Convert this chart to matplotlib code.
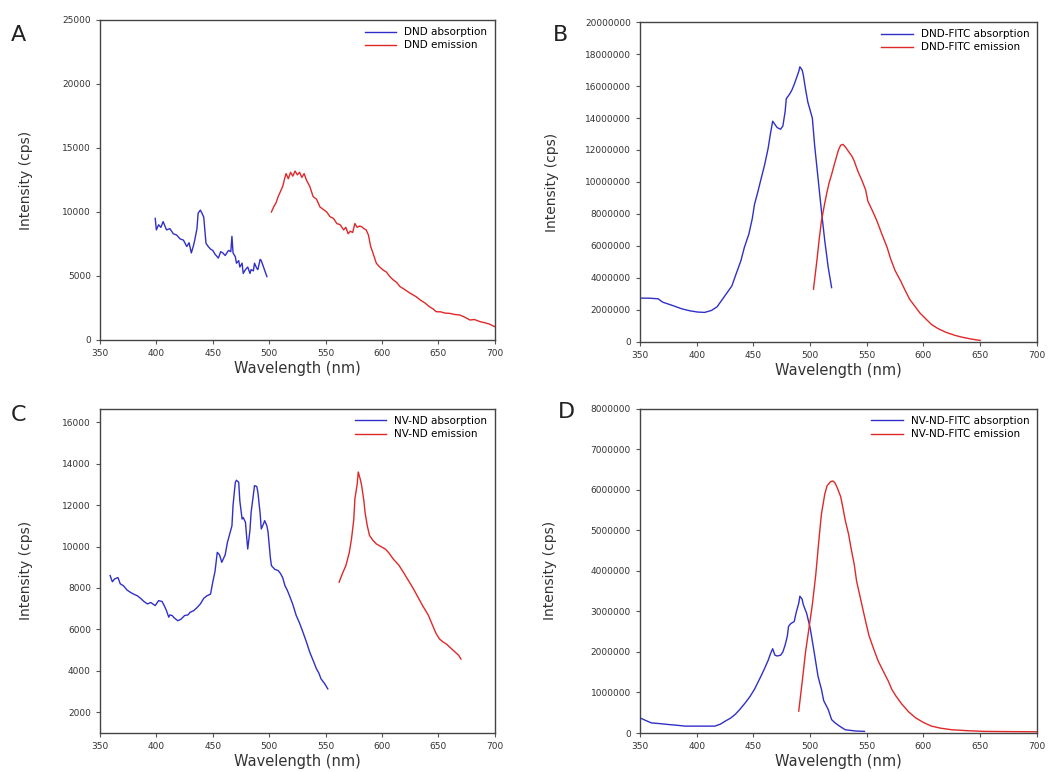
import matplotlib
matplotlib.use('Agg')
import matplotlib.pyplot as plt

# Panel A - DND
a_abs_x = [399, 400, 402, 404, 406, 409, 412, 415, 418, 421, 424, 427, 429, 431, 433, 434, 436, 437,
           439, 441, 442, 444, 446, 448, 450, 452, 455, 457, 459, 461, 464, 466, 467, 468, 470, 471,
           473, 474, 476, 477, 479, 481, 483, 484, 486, 487, 489, 490, 492, 493, 495, 498]
a_abs_y = [9500, 8600, 9000, 8800, 9250, 8600, 8700, 8300, 8200, 7900, 7800, 7300, 7600, 6800, 7400,
           7800, 8700, 9900, 10150, 9800, 9600, 7550, 7300, 7100, 7000, 6700, 6400, 6900, 6800, 6600,
           7000, 6900, 8100, 6800, 6500, 6000, 6200, 5700, 6000, 5200, 5500, 5700, 5200, 5500, 5400,
           6000, 5600, 5500, 6300, 6200, 5700, 4950]
a_em_x = [502, 504, 506, 508, 510, 512, 514, 515, 517, 519, 521, 523, 525, 527, 529, 531, 533, 536,
          539, 542, 545, 548, 551, 554, 557, 560, 563, 566, 568, 570, 572, 574, 576, 578, 580, 582,
          584, 586, 588, 590, 592, 595, 598, 601, 604, 607, 610, 613, 616, 620, 625, 630, 634, 638,
          642, 645, 648, 652, 656, 660, 664, 669, 673, 678, 682, 687, 691, 695, 700]
a_em_y = [10000, 10400, 10700, 11200, 11600, 12000, 12700, 13000, 12600, 13100, 12800, 13200, 12900,
          13100, 12700, 13000, 12500, 12000, 11200, 11000, 10400, 10200, 10000, 9630, 9500, 9100, 9000,
          8600, 8800, 8300, 8500, 8400, 9100, 8800, 8900, 8850, 8700, 8600, 8200, 7300, 6800, 6000,
          5700, 5470, 5300, 4950, 4700, 4500, 4170, 3950, 3650, 3400, 3120, 2900, 2600, 2450, 2210,
          2200, 2100, 2080, 2000, 1950, 1800, 1560, 1600, 1430, 1350, 1250, 1040]

# Panel B - DND-FITC
b_abs_x = [350, 358, 366, 370, 378, 387, 394, 401, 407, 413, 418, 422, 426, 431, 435, 439, 442, 446,
           449, 451, 454, 457, 460, 463, 465, 467, 469, 471, 474, 476, 478, 479, 482, 484, 486, 488,
           490, 491, 493, 494, 496, 498, 500, 502, 504, 507, 510, 513, 516, 519]
b_abs_y = [2740000, 2740000, 2700000, 2490000, 2300000, 2070000, 1950000, 1870000, 1850000, 1970000,
           2200000, 2600000, 3000000, 3500000, 4300000, 5080000, 5900000, 6740000, 7700000, 8600000,
           9400000, 10260000, 11100000, 12100000, 13000000, 13800000, 13600000, 13400000, 13300000,
           13500000, 14400000, 15200000, 15500000, 15750000, 16100000, 16500000, 16900000, 17200000,
           17000000, 16700000, 15800000, 15000000, 14500000, 14000000, 12300000, 10260000, 8200000,
           6300000, 4660000, 3400000]
b_em_x = [503, 506, 508, 510, 513, 515, 517, 519, 521, 523, 525, 527, 529, 531, 533, 535, 537, 539,
          542, 546, 549, 551, 555, 559, 563, 568, 571, 575, 580, 584, 588, 593, 597, 602, 607, 613,
          620, 628, 634, 641, 645, 650]
b_em_y = [3300000, 5080000, 6400000, 7560000, 8700000, 9400000, 10000000, 10470000, 11000000,
          11500000, 12000000, 12300000, 12350000, 12200000, 12000000, 11800000, 11600000, 11300000,
          10700000, 10050000, 9500000, 8800000, 8200000, 7560000, 6800000, 5900000, 5200000, 4460000,
          3800000, 3200000, 2650000, 2180000, 1800000, 1450000, 1100000, 830000, 600000, 410000,
          300000, 200000, 150000, 100000]

# Panel C - NV-ND
c_abs_x = [359, 361, 363, 366, 368, 371, 374, 377, 380, 383, 386, 389, 392, 395, 399, 402, 405, 407,
           409, 411, 412, 414, 416, 419, 422, 425, 428, 430, 433, 436, 439, 442, 445, 448, 450, 452,
           454, 456, 458, 461, 463, 465, 467, 468, 470, 471, 473, 474, 476, 477, 479, 480, 481, 483,
           484, 486, 487, 489, 490, 492, 493, 495, 496, 498, 499, 501, 502, 505, 508, 510, 512, 514,
           516, 518, 521, 524, 527, 530, 533, 536, 539, 542, 544, 546, 549, 552]
c_abs_y = [8600, 8300, 8440, 8500, 8200, 8100, 7900, 7790, 7700, 7630, 7500, 7350, 7230, 7300, 7150,
           7390, 7350, 7150, 6900, 6590, 6700, 6670, 6550, 6420, 6500, 6670, 6700, 6830, 6900, 7050,
           7230, 7500, 7630, 7700, 8280, 8800, 9720, 9600, 9240, 9600, 10200, 10600, 11000, 12000,
           13100, 13200, 13100, 12200, 11330, 11400, 11170, 10500, 9880, 10800, 11650, 12500, 12940,
           12900, 12620, 11600, 10850, 11100, 11250, 11000, 10700, 9500, 9080, 8900, 8840, 8700, 8500,
           8110, 7900, 7630, 7200, 6670, 6300, 5860, 5400, 4900, 4500, 4090, 3900, 3610, 3400, 3130]
c_em_x = [562, 565, 568, 571, 573, 575, 576, 578, 579, 581, 582, 584, 585, 587, 589, 592, 595, 599,
          603, 606, 610, 615, 619, 623, 628, 632, 636, 641, 645, 648, 651, 654, 657, 661, 665, 668, 670]
c_em_y = [8280, 8700, 9080, 9700, 10370, 11300, 12300, 13000, 13600, 13200, 12940, 12200, 11650,
          11000, 10530, 10300, 10130, 10000, 9880, 9700, 9400, 9100, 8760, 8400, 7950, 7550, 7150,
          6700, 6180, 5800, 5540, 5400, 5300, 5100, 4900, 4750, 4570]

# Panel D - NV-ND-FITC
d_abs_x = [350, 355, 360, 368, 375, 383, 390, 398, 405, 411, 416, 421, 425, 430, 434, 438, 443, 447,
           451, 454, 457, 460, 463, 465, 467, 469, 471, 474, 476, 478, 480, 481, 483, 486, 488, 490,
           491, 493, 494, 497, 500, 503, 505, 507, 510, 512, 516, 519, 522, 526, 531, 540, 548]
d_abs_y = [375000, 310000, 250000, 230000, 210000, 190000, 170000, 170000, 170000, 170000, 170000,
           220000, 290000, 370000, 460000, 580000, 750000, 900000, 1080000, 1250000, 1420000, 1600000,
           1790000, 1950000, 2080000, 1920000, 1900000, 1920000, 2000000, 2170000, 2400000, 2630000,
           2700000, 2750000, 3000000, 3200000, 3375000, 3300000, 3170000, 2950000, 2600000, 2100000,
           1750000, 1400000, 1080000, 800000, 580000, 330000, 250000, 170000, 80000, 50000, 40000]
d_em_x = [490, 493, 496, 499, 502, 505, 508, 510, 513, 515, 518, 520, 522, 524, 527, 529, 531, 534,
          536, 539, 541, 545, 549, 552, 556, 560, 565, 569, 572, 576, 581, 587, 593, 600, 607, 615,
          625, 640, 654, 675, 700]
d_em_y = [540000, 1250000, 2000000, 2580000, 3170000, 3900000, 4830000, 5400000, 5900000, 6100000,
          6200000, 6220000, 6170000, 6050000, 5830000, 5550000, 5250000, 4900000, 4580000, 4150000,
          3750000, 3250000, 2750000, 2400000, 2080000, 1780000, 1500000, 1280000, 1080000, 900000,
          710000, 520000, 375000, 260000, 170000, 120000, 80000, 55000, 40000, 35000, 30000]

panels = [
    ('A', [0.0952, 0.5596, 0.376, 0.4145], a_abs_x, a_abs_y, a_em_x, a_em_y,
     'DND absorption', 'DND emission', (0, 25000), range(0, 25001, 5000), -0.17, (0.010, 0.955)),
    ('B', [0.6095, 0.557, 0.378, 0.4145], b_abs_x, b_abs_y, b_em_x, b_em_y,
     'DND-FITC absorption', 'DND-FITC emission', (0, 20000000), range(0, 20000001, 2000000),
     -0.205, (0.527, 0.955)),
    ('C', [0.0952, 0.0505, 0.376, 0.42], c_abs_x, c_abs_y, c_em_x, c_em_y,
     'NV-ND absorption', 'NV-ND emission', (1000, 16650), range(2000, 16001, 2000), -0.17,
     (0.010, 0.462)),
    ('D', [0.6095, 0.0505, 0.378, 0.42], d_abs_x, d_abs_y, d_em_x, d_em_y,
     'NV-ND-FITC absorption', 'NV-ND-FITC emission', (0, 8000000), range(0, 8000001, 1000000),
     -0.21, (0.531, 0.466)),
]

fig = plt.figure(figsize=(10.5, 7.72), dpi=100)

for letter, rect, ax_x, ax_y, em_x, em_y, lab1, lab2, ylim, yticks, ylab_x, lpos in panels:
    ax = fig.add_axes(rect)
    ax.plot(ax_x, ax_y, color='#3030c8', lw=1.0, label=lab1)
    ax.plot(em_x, em_y, color='#e02828', lw=1.0, label=lab2)
    ax.set_xlim(350, 700)
    ax.set_ylim(*ylim)
    ax.set_xticks(range(350, 701, 50))
    ax.set_yticks(list(yticks))
    ax.ticklabel_format(axis='y', style='plain', useOffset=False)
    ax.tick_params(labelsize=6.5, length=3, color='#555555', labelcolor='#333333')
    for s in ax.spines.values():
        s.set_color('#444444')
        s.set_linewidth(1.0)
    ax.set_xlabel('Wavelength (nm)', fontsize=10.5, color='#333333', labelpad=2)
    ax.set_ylabel('Intensity (cps)', fontsize=10, color='#333333')
    ax.yaxis.set_label_coords(ylab_x, 0.5)
    ax.legend(loc='upper right', frameon=False, fontsize=7.5, handlelength=3,
              borderaxespad=0.3, labelspacing=0.3)
    # panel letter
    fig.text(lpos[0], lpos[1], letter, fontsize=16, color='#222222', va='center')

fig.savefig('out.png', dpi=100)
